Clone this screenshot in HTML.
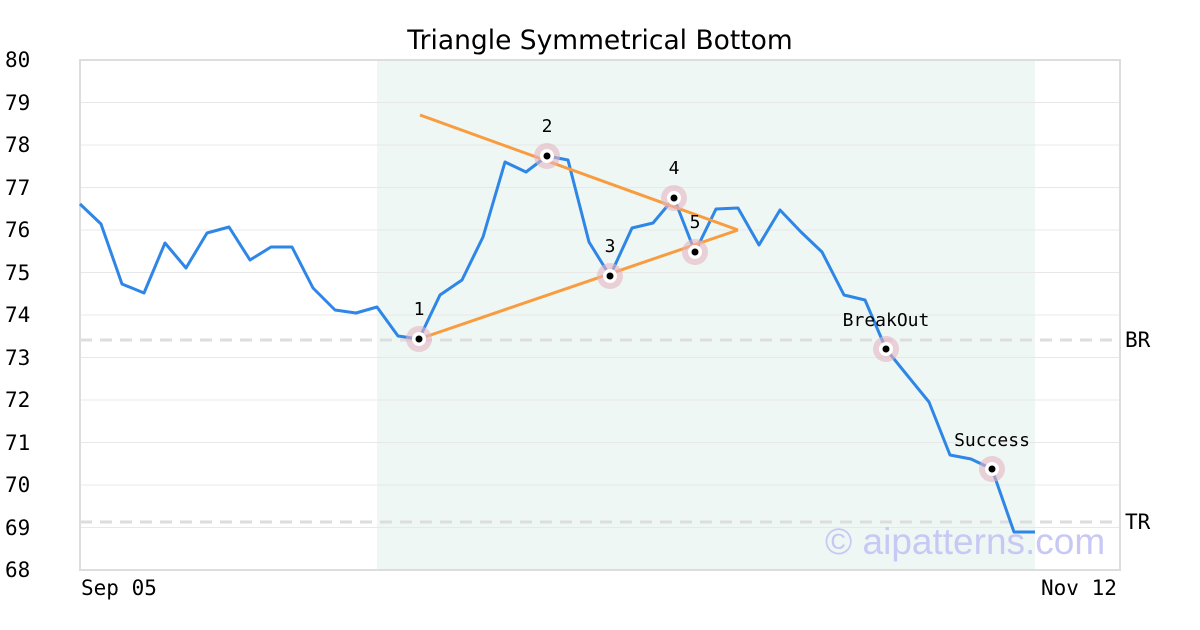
<!DOCTYPE html>
<html><head><meta charset="utf-8"><style>
body{margin:0;background:#fff;}
svg{display:block;}
</style></head><body>
<svg width="1200" height="630" xmlns="http://www.w3.org/2000/svg">
<rect width="1200" height="630" fill="#fff"/>
<rect x="377" y="60" width="658" height="510" fill="#eef7f3"/>
<g stroke="#e8e8e8" stroke-width="1">
<line x1="80" y1="102.5" x2="1120" y2="102.5"/><line x1="80" y1="145" x2="1120" y2="145"/>
<line x1="80" y1="187.5" x2="1120" y2="187.5"/><line x1="80" y1="230" x2="1120" y2="230"/>
<line x1="80" y1="272.5" x2="1120" y2="272.5"/><line x1="80" y1="315" x2="1120" y2="315"/>
<line x1="80" y1="357.5" x2="1120" y2="357.5"/><line x1="80" y1="400" x2="1120" y2="400"/>
<line x1="80" y1="442.5" x2="1120" y2="442.5"/><line x1="80" y1="485" x2="1120" y2="485"/>
<line x1="80" y1="527.5" x2="1120" y2="527.5"/>
</g>
<rect x="80" y="60" width="1040" height="510" fill="none" stroke="#ddd" stroke-width="2"/>
<g stroke="#ddd" stroke-width="3" stroke-dasharray="12,8">
<line x1="80" y1="340" x2="1120" y2="340"/><line x1="80" y1="522" x2="1120" y2="522"/>
</g>
<text x="825" y="554" font-family="Liberation Sans, sans-serif" font-size="37" fill="#c8c8f5">© aipatterns.com</text>
<polyline fill="none" stroke="#2e86e6" stroke-width="3" stroke-linejoin="round" points="80,204 101,224 122,284 144,293 165,243 186,268 207,233 229,227 250,260 271,247 292,247 313,288 335,310 356,313 377,307 398,336 419,339 440,295 462,280 483,237 505,162 526,172 547,156 568,160 589,242 610,276 632,228 653,223 674,198 695,252 716,209 738,208 759,245 780,210 801,232 822,252 844,295 865,300 886,349 907,375 929,402 950,455 971,459 992,469 1014,532 1035,532"/>
<g stroke="#f99c40" stroke-width="3" fill="none">
<line x1="420" y1="115" x2="738" y2="230"/><line x1="419" y1="339" x2="738" y2="230"/>
</g>
<g fill="rgba(230,180,195,0.6)">
<circle cx="419" cy="339" r="13"/><circle cx="547" cy="156" r="13"/><circle cx="610" cy="276" r="13"/>
<circle cx="674" cy="198" r="13"/><circle cx="695" cy="252" r="13"/><circle cx="886" cy="349" r="13"/><circle cx="992" cy="469" r="13"/>
</g>
<g fill="#fff">
<circle cx="419" cy="339" r="7"/><circle cx="547" cy="156" r="7"/><circle cx="610" cy="276" r="7"/>
<circle cx="674" cy="198" r="7"/><circle cx="695" cy="252" r="7"/><circle cx="886" cy="349" r="7"/><circle cx="992" cy="469" r="7"/>
</g>
<g fill="#000">
<circle cx="419" cy="339" r="3.5"/><circle cx="547" cy="156" r="3.5"/><circle cx="610" cy="276" r="3.5"/>
<circle cx="674" cy="198" r="3.5"/><circle cx="695" cy="252" r="3.5"/><circle cx="886" cy="349" r="3.5"/><circle cx="992" cy="469" r="3.5"/>
</g>
<g font-family="DejaVu Sans Mono, Liberation Mono, monospace" font-size="18" fill="#000" text-anchor="middle">
<text x="419" y="315">1</text><text x="547" y="132">2</text><text x="610" y="252">3</text>
<text x="674" y="174">4</text><text x="695" y="228">5</text><text x="886" y="326">BreakOut</text><text x="992" y="446">Success</text>
</g>
<g font-family="DejaVu Sans Mono, Liberation Mono, monospace" font-size="21" fill="#000">
<text x="5" y="67">80</text><text x="5" y="110">79</text><text x="5" y="152">78</text><text x="5" y="195">77</text>
<text x="5" y="237">76</text><text x="5" y="280">75</text><text x="5" y="322">74</text><text x="5" y="365">73</text>
<text x="5" y="407">72</text><text x="5" y="450">71</text><text x="5" y="492">70</text><text x="5" y="535">69</text>
<text x="5" y="577">68</text>
<text x="81" y="595">Sep 05</text><text x="1041" y="595">Nov 12</text>
<text x="1125" y="347">BR</text><text x="1125" y="529">TR</text>
</g>
<text x="600" y="49" text-anchor="middle" font-family="DejaVu Sans, Liberation Sans, sans-serif" font-size="26.5" fill="#000">Triangle Symmetrical Bottom</text>
</svg>
</body></html>
